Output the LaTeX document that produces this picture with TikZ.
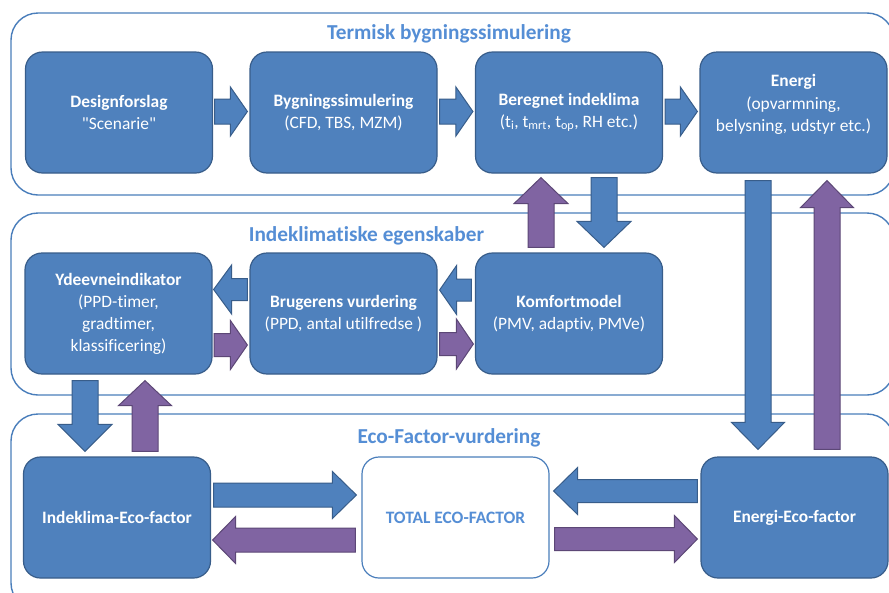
\documentclass[tikz,border=0pt]{standalone}
\usepackage{fontspec}
\setmainfont{Carlito}[Ligatures=NoCommon]
\newfontfamily\plainquotes{Carlito}[Ligatures=ResetAll]
\usetikzlibrary{calc}

\definecolor{boxblue}{HTML}{4F81BD}
\definecolor{boxline}{HTML}{385D8A}
\definecolor{arrpurple}{HTML}{8064A2}
\definecolor{purpleline}{HTML}{5C4776}
\definecolor{framebl}{HTML}{4A7EBB}
\definecolor{titlebl}{HTML}{558ED5}

% Block arrow from #2 to #3: shaft half width #4, head half width #5, head length #6
\newcommand\blockarrow[6][]{%
  \draw[#1] let \p1=(#2), \p2=(#3),
     \n1={atan2(\y2-\y1,\x2-\x1)}, \n2={veclen(\x2-\x1,\y2-\y1)} in
     ([shift={(\p1)},rotate=\n1]0pt,-#4) --
     ([shift={(\p1)},rotate=\n1]{\n2-#6},-#4) --
     ([shift={(\p1)},rotate=\n1]{\n2-#6},-#5) --
     ([shift={(\p1)},rotate=\n1]\n2,0pt) --
     ([shift={(\p1)},rotate=\n1]{\n2-#6},#5) --
     ([shift={(\p1)},rotate=\n1]{\n2-#6},#4) --
     ([shift={(\p1)},rotate=\n1]0pt,#4) -- cycle;}

\tikzset{
  container/.style={draw=framebl, line width=1.4pt, rounded corners=27pt},
  procbox/.style={draw=boxline, fill=boxblue, line width=1.2pt, rounded corners=17pt,
    minimum width=187pt, minimum height=121pt, text=white, align=center, inner sep=0pt,
    font=\fontsize{17.4}{22}\selectfont},
  boxtext/.style={text=white, align=center, inner sep=0pt, font=\fontsize{17.4}{22.5}\selectfont},
  totalbox/.style={procbox, fill=white, draw=framebl, text=titlebl, font=\fontsize{17.4}{22}\selectfont\bfseries},
  grouptitle/.style={text=titlebl, anchor=base, inner sep=0pt, font=\fontsize{21.3}{25}\selectfont\bfseries},
  bluearrow/.style={fill=boxblue, draw=boxline, line width=1pt},
  purplearrow/.style={fill=arrpurple, draw=purpleline, line width=1pt},
}

\begin{document}
\begin{tikzpicture}[x=1pt, y=-1pt]
\useasboundingbox (0,0) rectangle (889,592);
\clip (0,0) rectangle (889,592);
\fill[white] (0,0) rectangle (889,592);

% group frames
\draw[container] (11,13) rectangle (894,195);
\draw[container] (11,213) rectangle (894,395);
\draw[container] (11,414) rectangle (894,610);

% group titles
\node[grouptitle] (ttermisk) at (449,39) {Termisk bygningssimulering};
\node[grouptitle] (tindeklima) at (366.5,241) {Indeklimatiske egenskaber};
\node[grouptitle] (teco) at (449,443) {Eco-Factor-vurdering};

% thermal building simulation row
\node[procbox] (design) at (119,112.5) {\textbf{Designforslag}\\{\plainquotes "Scenarie"}};
\node[procbox] (bygn) at (343.5,112.5) {\textbf{Bygningssimulering}\\(CFD, TBS, MZM)};
\node[procbox] (beregn) at (569,112.5) {\textbf{Beregnet indeklima}\\(t\textsubscript{i}, t\textsubscript{mrt}, t\textsubscript{op}, RH etc.)};
\node[procbox] (energi) at (793.5,112.5) {};
\node[boxtext] (energitxt) at ($(energi.center)+(0,-8)$) {\textbf{Energi}\\(opvarmning,\\belysning, udstyr etc.)};

% indoor climate row
\node[procbox] (ydeevne) at (118.5,313.5) {\textbf{Ydeevneindikator}\\(PPD-timer,\\gradtimer,\\klassificering)};
\node[procbox] (bruger) at (343.5,313.5) {\textbf{Brugerens vurdering}\\(PPD, antal utilfredse )};
\node[procbox] (komfort) at (569,313.5) {\textbf{Komfortmodel}\\(PMV, adaptiv, PMVe)};

% eco-factor row
\node[procbox] (indeco) at (117,517.5) {\textbf{Indeklima-Eco-factor}};
\node[totalbox] (total) at (455.5,517.5) {TOTAL ECO-FACTOR};
\node[procbox] (energieco) at (794.5,517.5) {\textbf{Energi-Eco-factor}};

% arrows along the simulation chain
\blockarrow[bluearrow]{$(design.east)+(1.5,-1)$}{$(bygn.west)+(-2,-1)$}{12.5pt}{24.5pt}{17pt}
\blockarrow[bluearrow]{$(bygn.east)+(2,-1)$}{$(beregn.west)+(-2,-1)$}{12.5pt}{24.5pt}{17pt}
\blockarrow[bluearrow]{$(beregn.east)+(2,-1)$}{$(energi.west)+(-2,-1)$}{12.5pt}{24.5pt}{17pt}

% between simulation and comfort model
\blockarrow[purplearrow]{$(komfort.north)+(-28,-5)$}{$(beregn.south)+(-28,4)$}{13pt}{27pt}{26pt}
\blockarrow[bluearrow]{$(beregn.south)+(35,4)$}{$(komfort.north)+(35,-5)$}{13pt}{27pt}{26pt}

% energy down to energy eco-factor and back
\blockarrow[bluearrow]{$(energi.south)+(-35.5,7)$}{$(energieco.north)+(-36.5,-7)$}{13pt}{26.5pt}{27pt}
\blockarrow[purplearrow]{$(energieco.north)+(32.5,-7)$}{$(energi.south)+(33.5,7)$}{13pt}{26.5pt}{27pt}

% indoor climate row arrows
\blockarrow[bluearrow]{$(bruger.west)+(-2,-24)$}{$(ydeevne.east)+(1,-24)$}{11pt}{24.5pt}{18pt}
\blockarrow[purplearrow]{$(ydeevne.east)+(1.5,31.5)$}{$(bruger.west)+(-2,31.5)$}{11.5pt}{24.5pt}{17pt}
\blockarrow[bluearrow]{$(komfort.west)+(-3.5,-23.5)$}{$(bruger.east)+(2,-23.5)$}{11pt}{24.5pt}{17pt}
\blockarrow[purplearrow]{$(bruger.east)+(2,30.5)$}{$(komfort.west)+(-1.5,30.5)$}{11.5pt}{25pt}{17pt}

% performance indicator to indoor climate eco-factor and back
\blockarrow[bluearrow]{$(ydeevne.south)+(-33.5,6)$}{$(indeco.north)+(-32,-5)$}{13pt}{27pt}{27pt}
\blockarrow[purplearrow]{$(indeco.north)+(28,-5)$}{$(ydeevne.south)+(26.5,6)$}{13pt}{26.5pt}{25pt}

% eco-factor row arrows
\blockarrow[bluearrow]{$(indeco.east)+(2.5,-22.5)$}{$(total.west)+(-5,-22.5)$}{12pt}{23.5pt}{24pt}
\blockarrow[purplearrow]{$(total.west)+(-6,22.5)$}{$(indeco.east)+(1.5,22.5)$}{12pt}{23.5pt}{23pt}
\blockarrow[bluearrow]{$(energieco.west)+(-3,-26.5)$}{$(total.east)+(4,-26.5)$}{11.5pt}{23.5pt}{24pt}
\blockarrow[purplearrow]{$(total.east)+(5,21.5)$}{$(energieco.west)+(-3,21.5)$}{11.5pt}{23.5pt}{23pt}
\end{tikzpicture}
\end{document}
